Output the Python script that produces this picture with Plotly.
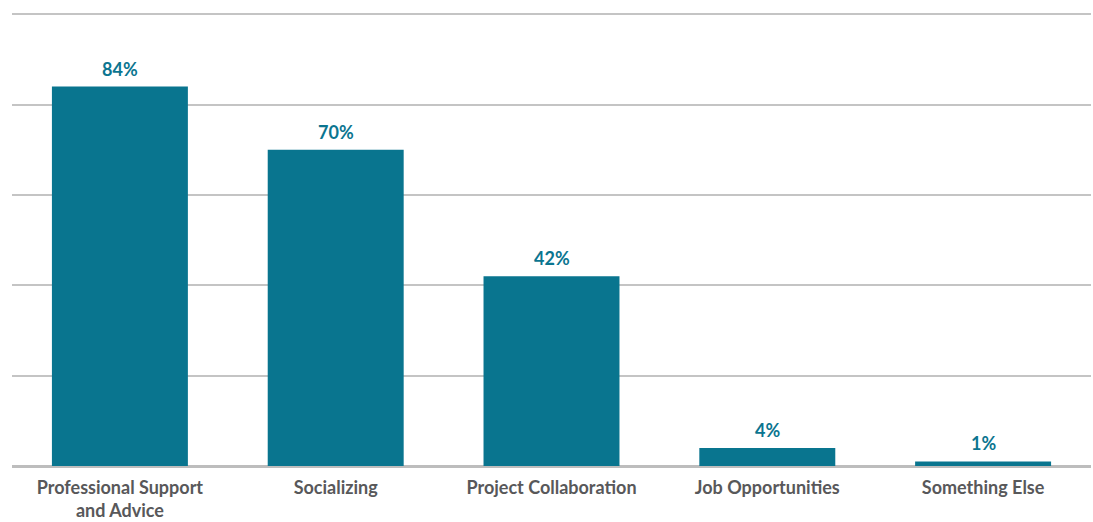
import plotly.graph_objects as go

categories = ["Professional Support<br>and Advice", "Socializing", "Project Collaboration",
              "Job Opportunities", "Something Else"]
values = [84, 70, 42, 4, 1]
value_labels = ["84%", "70%", "42%", "4%", "1%"]

BAR = "#09758f"
TEXT = "#0b7590"
TICK = "#58585a"

fig = go.Figure(go.Bar(
    x=categories,
    y=values,
    marker=dict(color=BAR, line=dict(width=0)),
    width=0.63,
    hoverinfo="x+y",
))

# value labels sitting just above each bar
for cat, val, lab in zip(categories, values, value_labels):
    fig.add_annotation(
        x=cat, y=val, text=lab, showarrow=False,
        yanchor="bottom", yshift=5,
        font=dict(family="Lato", size=18, color=TEXT, weight="bold"),
    )

fig.update_layout(
    width=1093, height=522,
    margin=dict(l=12, r=2, t=13, b=56),
    paper_bgcolor="white", plot_bgcolor="white",
    showlegend=False,
    xaxis=dict(
        tickfont=dict(family="Lato", size=18, color=TICK, weight="bold"),
        showgrid=False, showline=False, ticks="",
        ticklabelstandoff=9, automargin=False,
    ),
    yaxis=dict(
        range=[0, 100.3], dtick=20, showticklabels=False,
        gridcolor="#c4c4c4", gridwidth=2,
        zeroline=True, zerolinecolor="#bdbdbd", zerolinewidth=3,
        showline=False, automargin=False,
    ),
)

fig.write_html("out.html")
